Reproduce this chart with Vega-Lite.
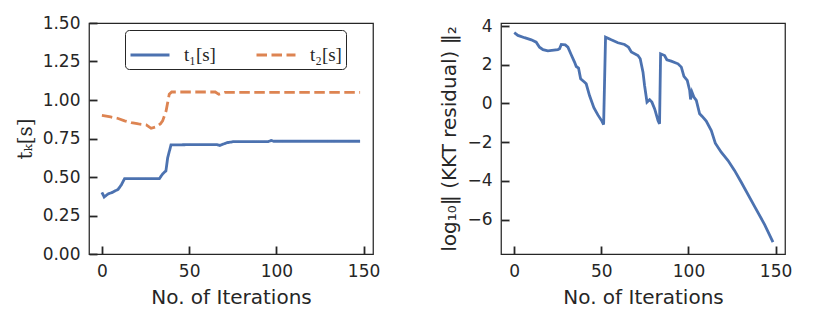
{
  "$schema": "https://vega.github.io/schema/vega-lite/v6.json",
  "background": "white",
  "padding": {"left": 14, "top": 13, "right": 5, "bottom": 5},
  "bounds": "flush",
  "spacing": 128,
  "config": {
    "view": {"stroke": "#262626", "strokeWidth": 1.25},
    "axis": {
      "domain": false, "grid": false, "ticks": true, "tickSize": -8, "tickWidth": 1.8, "tickColor": "#262626",
      "labelFont": "DejaVu Sans", "labelFontSize": 17, "labelColor": "#262626", "labelPadding": 17,
      "titleFont": "DejaVu Sans", "titleFontSize": 20, "titleFontWeight": "normal", "titleColor": "#262626"
    }
  },
  "datasets": {
    "left": [
      {"it": 0, "v": 0.40, "series": "t₁[s]"},
      {"it": 1.3, "v": 0.37, "series": "t₁[s]"},
      {"it": 3.5, "v": 0.39, "series": "t₁[s]"},
      {"it": 6, "v": 0.40, "series": "t₁[s]"},
      {"it": 9.3, "v": 0.42, "series": "t₁[s]"},
      {"it": 11.2, "v": 0.45, "series": "t₁[s]"},
      {"it": 13, "v": 0.49, "series": "t₁[s]"},
      {"it": 20, "v": 0.49, "series": "t₁[s]"},
      {"it": 33, "v": 0.49, "series": "t₁[s]"},
      {"it": 34.8, "v": 0.52, "series": "t₁[s]"},
      {"it": 36.7, "v": 0.54, "series": "t₁[s]"},
      {"it": 37.7, "v": 0.625, "series": "t₁[s]"},
      {"it": 39.6, "v": 0.708, "series": "t₁[s]"},
      {"it": 50, "v": 0.71, "series": "t₁[s]"},
      {"it": 66, "v": 0.71, "series": "t₁[s]"},
      {"it": 67.5, "v": 0.705, "series": "t₁[s]"},
      {"it": 71.8, "v": 0.723, "series": "t₁[s]"},
      {"it": 75.6, "v": 0.73, "series": "t₁[s]"},
      {"it": 95.4, "v": 0.73, "series": "t₁[s]"},
      {"it": 97, "v": 0.737, "series": "t₁[s]"},
      {"it": 98.5, "v": 0.732, "series": "t₁[s]"},
      {"it": 148, "v": 0.732, "series": "t₁[s]"},
      {"it": 0, "v": 0.90, "series": "t₂[s]"},
      {"it": 5, "v": 0.89, "series": "t₂[s]"},
      {"it": 9.3, "v": 0.88, "series": "t₂[s]"},
      {"it": 13, "v": 0.865, "series": "t₂[s]"},
      {"it": 16.9, "v": 0.853, "series": "t₂[s]"},
      {"it": 21, "v": 0.845, "series": "t₂[s]"},
      {"it": 25.4, "v": 0.838, "series": "t₂[s]"},
      {"it": 28.2, "v": 0.816, "series": "t₂[s]"},
      {"it": 31, "v": 0.825, "series": "t₂[s]"},
      {"it": 33.5, "v": 0.845, "series": "t₂[s]"},
      {"it": 34.8, "v": 0.864, "series": "t₂[s]"},
      {"it": 36.8, "v": 0.93, "series": "t₂[s]"},
      {"it": 38.6, "v": 1.037, "series": "t₂[s]"},
      {"it": 40, "v": 1.052, "series": "t₂[s]"},
      {"it": 50, "v": 1.052, "series": "t₂[s]"},
      {"it": 65, "v": 1.052, "series": "t₂[s]"},
      {"it": 67, "v": 1.037, "series": "t₂[s]"},
      {"it": 70.5, "v": 1.05, "series": "t₂[s]"},
      {"it": 148, "v": 1.05, "series": "t₂[s]"}
    ],
    "right": [
      {"it": 0, "v": 3.66}, {"it": 2.1, "v": 3.52}, {"it": 5.9, "v": 3.40}, {"it": 9.8, "v": 3.29},
      {"it": 12.6, "v": 3.17}, {"it": 14.5, "v": 2.91}, {"it": 16.5, "v": 2.78}, {"it": 19.3, "v": 2.72},
      {"it": 25, "v": 2.78}, {"it": 26, "v": 2.83}, {"it": 27, "v": 3.05}, {"it": 29.3, "v": 3.03},
      {"it": 30.8, "v": 2.91}, {"it": 32.7, "v": 2.52}, {"it": 34.6, "v": 2.14}, {"it": 35.6, "v": 1.91},
      {"it": 36.9, "v": 1.83}, {"it": 38.1, "v": 1.28}, {"it": 40.4, "v": 1.10}, {"it": 41.3, "v": 1.02},
      {"it": 43.2, "v": 0.41}, {"it": 45.7, "v": -0.22}, {"it": 48.0, "v": -0.59}, {"it": 50.3, "v": -0.91},
      {"it": 51.3, "v": -1.09}, {"it": 52.4, "v": 3.43}, {"it": 55.7, "v": 3.29}, {"it": 59.5, "v": 3.14},
      {"it": 63.3, "v": 3.05}, {"it": 65.6, "v": 2.91}, {"it": 67.2, "v": 2.66}, {"it": 71, "v": 2.48},
      {"it": 72.3, "v": 2.31}, {"it": 73.9, "v": 1.62}, {"it": 74.8, "v": 0.93}, {"it": 76.2, "v": 0.07},
      {"it": 77.7, "v": 0.19}, {"it": 79, "v": 0.07}, {"it": 80.6, "v": -0.28}, {"it": 82.5, "v": -0.88},
      {"it": 83.4, "v": -1.05}, {"it": 84, "v": 2.57}, {"it": 86.3, "v": 2.48}, {"it": 87.6, "v": 2.26},
      {"it": 90.1, "v": 2.19}, {"it": 94, "v": 2.05}, {"it": 95.9, "v": 1.88}, {"it": 97.4, "v": 1.40},
      {"it": 99.3, "v": 1.19}, {"it": 100.7, "v": 0.67}, {"it": 101.2, "v": 0.21}, {"it": 102, "v": 0.59},
      {"it": 103.1, "v": 0.33}, {"it": 104.5, "v": 0.16}, {"it": 106.4, "v": -0.53}, {"it": 107.9, "v": -0.67},
      {"it": 110.2, "v": -0.91}, {"it": 113.1, "v": -1.40}, {"it": 115.4, "v": -2.05}, {"it": 118.8, "v": -2.52},
      {"it": 122.7, "v": -2.95}, {"it": 126.5, "v": -3.47}, {"it": 130.3, "v": -4.07}, {"it": 138, "v": -5.33},
      {"it": 143.7, "v": -6.26}, {"it": 148.5, "v": -7.17}
    ]
  },
  "hconcat": [
    {
      "width": 284,
      "height": 231,
      "data": {"name": "left"},
      "mark": {"type": "line", "strokeWidth": 2.8},
      "encoding": {
        "x": {"field": "it", "type": "quantitative",
          "scale": {"domain": [-7.4, 155.4], "nice": false, "zero": false},
          "axis": {"values": [0, 50, 100, 150], "title": "No. of Iterations", "titlePadding": 8}},
        "y": {"field": "v", "type": "quantitative",
          "scale": {"domain": [0, 1.5], "nice": false},
          "axis": {"values": [0, 0.25, 0.5, 0.75, 1, 1.25, 1.5], "format": ".2f", "title": "tₖ[s]", "titleFont": "DejaVu Serif", "titlePadding": 7}},
        "color": {"field": "series", "type": "nominal",
          "scale": {"domain": ["t₁[s]", "t₂[s]"], "range": ["#4c72b0", "#dd8452"]},
          "legend": {"title": null, "orient": "none", "legendX": 36, "legendY": 7, "direction": "horizontal", "columns": 2, "columnPadding": 34,
            "symbolType": "stroke", "symbolSize": 1521, "symbolStrokeWidth": 2.8, "labelFont": "Liberation Serif", "labelFontSize": 19, "labelColor": "#262626",
            "labelOffset": 13, "padding": 4, "strokeColor": "#262626", "cornerRadius": 4, "fillColor": "white"}},
        "strokeDash": {"field": "series", "type": "nominal",
          "scale": {"domain": ["t₁[s]", "t₂[s]"], "range": [[1, 0], [10.5, 4.5]]},
          "legend": {"title": null, "orient": "none", "legendX": 36, "legendY": 7, "direction": "horizontal", "columns": 2, "columnPadding": 34,
            "symbolType": "stroke", "symbolSize": 1521, "symbolStrokeWidth": 2.8, "labelFont": "Liberation Serif", "labelFontSize": 19, "labelColor": "#262626",
            "labelOffset": 13, "padding": 4, "strokeColor": "#262626", "cornerRadius": 4, "fillColor": "white"}}
      }
    },
    {
      "width": 284,
      "height": 231,
      "data": {"name": "right"},
      "mark": {"type": "line", "strokeWidth": 2.8, "color": "#4c72b0"},
      "encoding": {
        "x": {"field": "it", "type": "quantitative",
          "scale": {"domain": [-7.6, 155.4], "nice": false, "zero": false},
          "axis": {"values": [0, 50, 100, 150], "title": "No. of Iterations", "titlePadding": 8}},
        "y": {"field": "v", "type": "quantitative",
          "scale": {"domain": [-7.78, 4.16], "nice": false, "zero": false},
          "axis": {"values": [-6, -4, -2, 0, 2, 4], "format": "d", "title": "log₁₀‖ (KKT residual) ‖₂", "titlePadding": 7}}
      }
    }
  ]
}
